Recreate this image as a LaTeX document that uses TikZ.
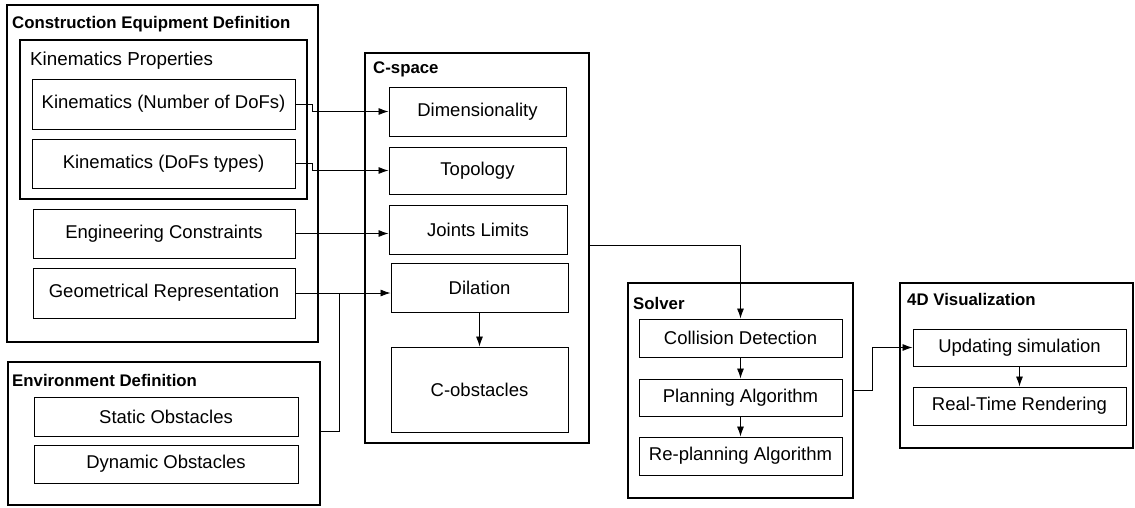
\documentclass[tikz,border=0pt]{standalone}
\usepackage{fontspec}
\setmainfont{Liberation Sans}
\usetikzlibrary{arrows.meta}
\tikzset{
  container/.style={draw, line width=1.3pt, inner sep=0pt},
  itembox/.style={draw, line width=1pt, inner sep=0pt, font=\fontsize{18.5}{20}\selectfont},
  ttl/.style={anchor=west, inner sep=0pt, font=\fontsize{16.8}{18}\selectfont\bfseries},
  subttl/.style={anchor=west, inner sep=0pt, font=\fontsize{18.8}{20}\selectfont},
  conn/.style={line width=0.8pt},
  arr/.style={conn, -{Latex[length=10pt,width=7pt]}},
}
% box by corners (x1,y1,x2,y2) in px
\newcommand{\mybox}[7]{%
  \node[#1, minimum width={(#5)-(#3)}, minimum height={(#6)-(#4)}] (#2) at ({((#3)+(#5))/2},{((#4)+(#6))/2}) {#7};}
\begin{document}
\begin{tikzpicture}[x=1pt,y=-1pt]
\useasboundingbox[fill=white] (0,0) rectangle (1135,507);
% Construction Equipment Definition
\mybox{container}{ced}{7}{5}{318}{342}{}
\node[ttl] (cedt) at (12,24) {Construction Equipment Definition};
\mybox{container}{kp}{20}{40}{307}{199}{}
\node[subttl] (kpt) at (30,61) {Kinematics Properties};
\mybox{itembox}{kn}{32}{79}{295}{129}{Kinematics (Number of DoFs)}
\mybox{itembox}{kt}{32}{139}{295}{188}{Kinematics (DoFs types)}
\mybox{itembox}{ec}{33}{209}{295}{258}{Engineering Constraints}
\mybox{itembox}{gr}{33}{268}{295}{318}{Geometrical Representation}
% Environment Definition
\mybox{container}{env}{8}{362}{320}{505}{}
\node[ttl] (envt) at (12,380) {Environment Definition};
\mybox{itembox}{so}{34}{397}{298}{436}{Static Obstacles}
\mybox{itembox}{do}{34}{445}{298}{483}{Dynamic Obstacles}
% C-space
\mybox{container}{cs}{365}{53}{589}{443}{}
\node[ttl] (cst) at (373,69) {C-space};
\mybox{itembox}{dim}{389}{87}{566}{136}{Dimensionality}
\mybox{itembox}{top}{389}{147}{566}{194}{Topology}
\mybox{itembox}{jl}{389}{205}{567}{254}{Joints Limits}
\mybox{itembox}{dil}{391}{263}{568}{312}{Dilation}
\mybox{itembox}{cob}{391}{347}{568}{432}{C-obstacles}
% Solver
\mybox{container}{sol}{628}{283}{853}{498}{}
\node[ttl] (solt) at (633,303) {Solver};
\mybox{itembox}{cd}{639}{319}{842}{357}{Collision Detection}
\mybox{itembox}{pa}{639}{379}{842}{416}{Planning Algorithm}
\mybox{itembox}{rp}{639}{437}{842}{475}{Re-planning Algorithm}
% 4D Visualization
\mybox{container}{viz}{900}{283}{1133}{448}{}
\node[ttl] (vizt) at (907,299) {4D Visualization};
\mybox{itembox}{us}{913}{329}{1126}{366}{Updating simulation}
\mybox{itembox}{rt}{913}{387}{1126}{425}{Real-Time Rendering}
% connectors
\draw[arr] (kn.east) -- ++(17,0) |- (dim.west);
\draw[arr] (kt.east) -- ++(17,0) |- (top.west);
\draw[arr] (ec.east) -- (jl.west |- ec.east);
\draw[arr] (gr.east) -- (dil.west |- gr.east);
\coordinate (envout) at (320,431);
\coordinate (join) at (339,293);
\draw[conn] (envout) -| (join);
\draw[arr] (dil.south) -- (cob.north);
\coordinate (csout) at (589,245);
\draw[arr] (csout) -| (cd.north);
\draw[arr] (cd.south) -- (pa.north);
\draw[arr] (pa.south) -- (rp.north);
\coordinate (solout) at (853,390);
\draw[arr] (solout) -- ++(19,0) |- (us.west);
\draw[arr] (us.south) -- (rt.north);
\end{tikzpicture}
\end{document}
